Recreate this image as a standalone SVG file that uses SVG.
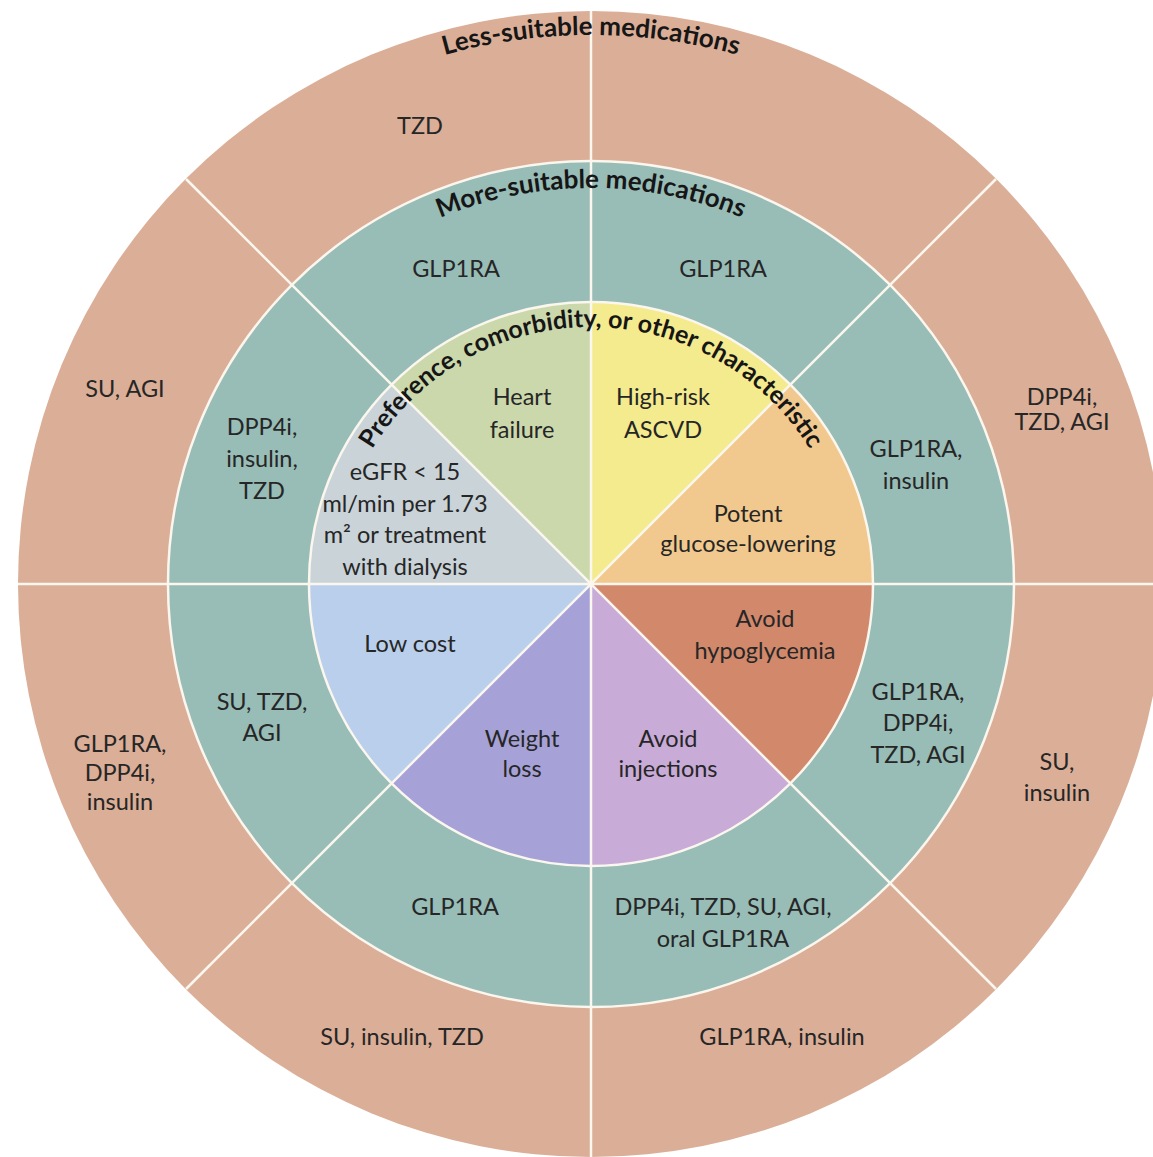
<svg xmlns="http://www.w3.org/2000/svg" width="1153" height="1157" viewBox="0 0 1153 1157">
  <defs>
    <style>
      .lbl { font-family: Lato, "Open Sans", "DejaVu Sans", sans-serif; font-size: 23.5px; fill: #262626; text-anchor: middle; }
      .arc { font-family: Lato, "Open Sans", "DejaVu Sans", sans-serif; font-weight: bold; fill: #161616; }
      .sep { stroke: #fbf6ee; stroke-width: 2.5; fill: none; }
    </style>
    <!-- baselines for the curved ring titles (centre 591,584) -->
    <path id="arcOuter" d="M 42 584 A 549 549 0 0 1 1140 584"/>
    <path id="arcMiddle" d="M 195 584 A 396 396 0 0 1 987 584"/>
    <path id="arcInner" d="M 334 584 A 257 257 0 0 1 848 584"/>
  </defs>

  <!-- rings -->
  <g id="ring-less">
    <circle cx="591" cy="584" r="573" fill="#dbae97"/>
  </g>
  <g id="ring-more">
    <circle cx="591" cy="584" r="423" fill="#98bcb6"/>
  </g>

  <!-- inner sectors: preference, comorbidity, or other characteristic -->
  <g id="sector-ascvd"><path d="M591 584 L790.4 384.6 A282 282 0 0 0 591 302 Z" fill="#f4ea8e"/></g>
  <g id="sector-heart"><path d="M591 584 L591 302 A282 282 0 0 0 391.6 384.6 Z" fill="#cbd8ab"/></g>
  <g id="sector-egfr"><path d="M591 584 L391.6 384.6 A282 282 0 0 0 309 584 Z" fill="#c9d3d8"/></g>
  <g id="sector-cost"><path d="M591 584 L309 584 A282 282 0 0 0 391.6 783.4 Z" fill="#bacfeb"/></g>
  <g id="sector-weight"><path d="M591 584 L391.6 783.4 A282 282 0 0 0 591 866 Z" fill="#a6a2d8"/></g>
  <g id="sector-injections"><path d="M591 584 L591 866 A282 282 0 0 0 790.4 783.4 Z" fill="#c9abd8"/></g>
  <g id="sector-hypo"><path d="M591 584 L790.4 783.4 A282 282 0 0 0 873 584 Z" fill="#d2886b"/></g>
  <g id="sector-potent"><path d="M591 584 L873 584 A282 282 0 0 0 790.4 384.6 Z" fill="#f1c98e"/></g>

  <!-- separators -->
  <g id="connectors">
    <line class="sep" x1="591" y1="11" x2="591" y2="1157"/>
    <line class="sep" x1="18" y1="584" x2="1153" y2="584"/>
    <line class="sep" x1="186" y1="179" x2="996" y2="989"/>
    <line class="sep" x1="996" y1="179" x2="186" y2="989"/>
    <circle class="sep" cx="591" cy="584" r="423"/>
    <circle class="sep" cx="591" cy="584" r="282"/>
  </g>

  <!-- ring titles -->
  <g id="title-less">
    <text class="arc" font-size="26"><textPath href="#arcOuter" startOffset="50%" text-anchor="middle">Less-suitable medications</textPath></text>
  </g>
  <g id="title-more">
    <text class="arc" font-size="26"><textPath href="#arcMiddle" startOffset="50%" text-anchor="middle">More-suitable medications</textPath></text>
  </g>
  <g id="title-inner">
    <text class="arc" font-size="25"><textPath href="#arcInner" startOffset="50%" text-anchor="middle">Preference, comorbidity, or other characteristic</textPath></text>
  </g>

  <!-- outer ring labels -->
  <g id="less-tzd"><text class="lbl" x="420" y="134">TZD</text></g>
  <g id="less-su-agi"><text class="lbl" x="125" y="397">SU, AGI</text></g>
  <g id="less-dpp4i"><text class="lbl" x="1062" y="405">DPP4i,</text><text class="lbl" x="1062" y="430">TZD, AGI</text></g>
  <g id="less-glp1ra"><text class="lbl" x="120" y="752">GLP1RA,</text><text class="lbl" x="120" y="781">DPP4i,</text><text class="lbl" x="120" y="810">insulin</text></g>
  <g id="less-su-insulin"><text class="lbl" x="1057" y="770">SU,</text><text class="lbl" x="1057" y="801">insulin</text></g>
  <g id="less-su-insulin-tzd"><text class="lbl" x="402" y="1045">SU, insulin, TZD</text></g>
  <g id="less-glp1ra-insulin"><text class="lbl" x="782" y="1045">GLP1RA, insulin</text></g>

  <!-- middle ring labels -->
  <g id="more-glp1ra-heart"><text class="lbl" x="456" y="277">GLP1RA</text></g>
  <g id="more-glp1ra-ascvd"><text class="lbl" x="723" y="277">GLP1RA</text></g>
  <g id="more-dpp4i"><text class="lbl" x="262" y="435">DPP4i,</text><text class="lbl" x="262" y="467">insulin,</text><text class="lbl" x="262" y="499">TZD</text></g>
  <g id="more-glp1ra-insulin"><text class="lbl" x="916" y="457">GLP1RA,</text><text class="lbl" x="916" y="489">insulin</text></g>
  <g id="more-su-tzd-agi"><text class="lbl" x="262" y="710">SU, TZD,</text><text class="lbl" x="262" y="741">AGI</text></g>
  <g id="more-glp1ra-dpp4i"><text class="lbl" x="918" y="700">GLP1RA,</text><text class="lbl" x="918" y="731">DPP4i,</text><text class="lbl" x="918" y="763">TZD, AGI</text></g>
  <g id="more-glp1ra-weight"><text class="lbl" x="455" y="915">GLP1RA</text></g>
  <g id="more-oral"><text class="lbl" x="723" y="915">DPP4i, TZD, SU, AGI,</text><text class="lbl" x="723" y="947">oral GLP1RA</text></g>

  <!-- inner sector labels -->
  <g id="lbl-heart"><text class="lbl" x="522" y="405">Heart</text><text class="lbl" x="522" y="438">failure</text></g>
  <g id="lbl-ascvd"><text class="lbl" x="663" y="405">High-risk</text><text class="lbl" x="663" y="438">ASCVD</text></g>
  <g id="lbl-egfr"><text class="lbl" x="405" y="480">eGFR &lt; 15</text><text class="lbl" x="405" y="512">ml/min per 1.73</text><text class="lbl" x="405" y="543">m² or treatment</text><text class="lbl" x="405" y="575">with dialysis</text></g>
  <g id="lbl-potent"><text class="lbl" x="748" y="522">Potent</text><text class="lbl" x="748" y="552">glucose-lowering</text></g>
  <g id="lbl-hypo"><text class="lbl" x="765" y="627">Avoid</text><text class="lbl" x="765" y="659">hypoglycemia</text></g>
  <g id="lbl-cost"><text class="lbl" x="410" y="652">Low cost</text></g>
  <g id="lbl-weight"><text class="lbl" x="522" y="747">Weight</text><text class="lbl" x="522" y="777">loss</text></g>
  <g id="lbl-injections"><text class="lbl" x="668" y="747">Avoid</text><text class="lbl" x="668" y="777">injections</text></g>
</svg>
